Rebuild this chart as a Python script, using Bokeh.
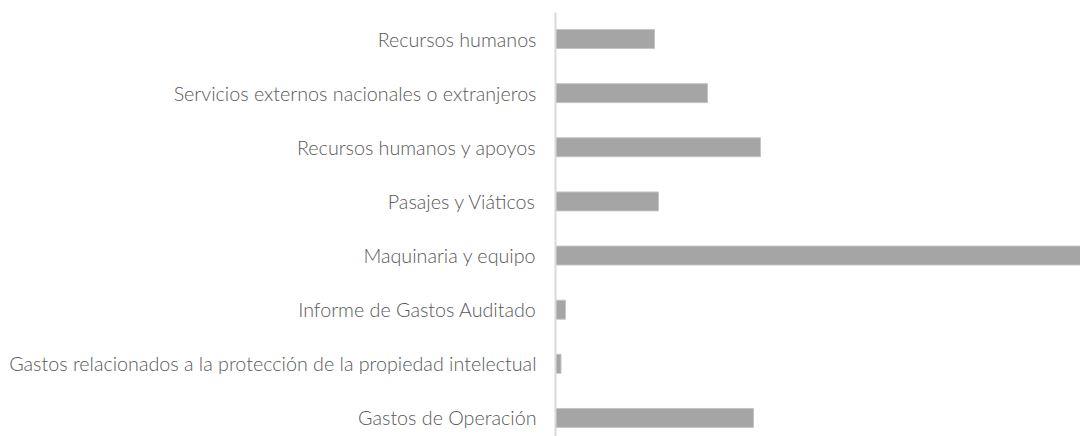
from bokeh.plotting import figure
from bokeh.models import Range1d, FixedTicker
from bokeh.embed import file_html
from bokeh.resources import INLINE

categories = [
    "Recursos humanos",
    "Servicios externos nacionales o extranjeros",
    "Recursos humanos y apoyos",
    "Pasajes y Viáticos",
    "Maquinaria y equipo",
    "Informe de Gastos Auditado",
    "Gastos relacionados a la protección de la propiedad intelectual",
    "Gastos de Operación",
]
values = [99, 152, 205, 103, 525, 10, 5.5, 198]

n = len(categories)
ypos = [n - 1 - i for i in range(n)]

p = figure(width=1080, height=436, output_backend="svg", toolbar_location=None,
           x_range=Range1d(0, 525), y_range=Range1d(-0.343, n - 0.51),
           min_border_left=555, min_border_right=0, min_border_top=12, min_border_bottom=0)

p.hbar(y=ypos, right=values, left=0, height=0.35, fill_color="#a5a5a5",
       line_color="#c4c4c4", line_width=1)

p.xaxis.visible = False
p.xgrid.visible = False
p.ygrid.visible = False
p.outline_line_color = None

ax = p.yaxis[0]
ax.ticker = FixedTicker(ticks=ypos)
ax.major_label_overrides = {y: c for y, c in zip(ypos, categories)}
ax.major_tick_line_color = None
ax.minor_tick_line_color = None
ax.axis_line_color = "#d9d9d9"
ax.axis_line_width = 2
ax.major_label_text_font = "'Lato Light', Lato"
ax.major_label_text_font_size = "19.7px"
ax.major_label_text_color = "#595959"
ax.major_label_standoff = 13

open("out.html", "w").write(file_html(p, INLINE))
